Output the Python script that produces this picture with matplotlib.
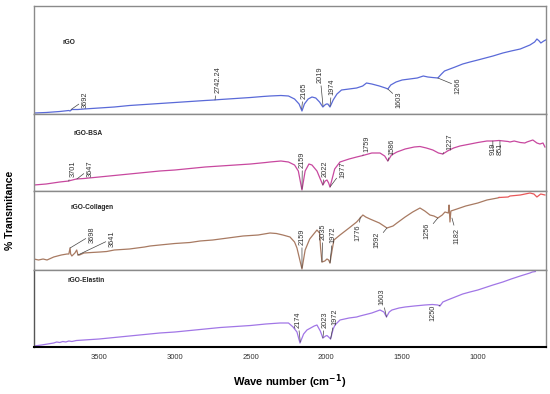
import matplotlib
matplotlib.use("Agg")
import matplotlib.pyplot as plt

plt.rcParams["font.family"] = ["Liberation Sans", "DejaVu Sans"]

# wave numbers (cm-1) and relative transmittance
RGO_W = [3930, 3850, 3760, 3700, 3692, 3680, 3640, 3600, 3500, 3400, 3300, 3200, 3100, 3000,
         2900, 2800, 2742, 2700, 2600, 2500, 2420, 2372, 2300, 2250, 2210, 2180, 2161, 2145,
         2120, 2095, 2070, 2045, 2023, 2010, 2000, 1990, 1976, 1955, 1930, 1900, 1850, 1800,
         1760, 1735, 1700, 1650, 1610, 1594, 1575, 1540, 1500, 1450, 1400, 1360, 1330, 1300,
         1264, 1240, 1220, 1150, 1100, 1052, 1000, 950, 900, 835, 780, 720, 656, 625, 610,
         595, 584, 565, 552]
RGO_T = [1, 1.5, 2.5, 3.5, 3, 4.5, 4.5, 5, 6, 7, 8.5, 9.5, 10.5, 11.5,
         12.5, 13.5, 14, 14.5, 15.5, 16.5, 17.5, 18, 18.5, 18, 15, 10, 3, 10,
         15, 17, 16, 12, 7, 9, 10, 10, 7, 14, 20, 24, 25, 26,
         28, 31, 30, 28, 26, 25, 29, 32, 34, 35, 36, 38, 37, 36.5,
         36, 40, 43, 47, 50, 52, 54, 56, 58, 61, 63, 65, 69, 72, 75,
         73, 71, 73, 74]

BSA_W = [3930, 3850, 3760, 3701, 3690, 3650, 3600, 3500, 3400, 3300, 3200, 3100, 3000, 2900,
         2800, 2700, 2600, 2500, 2400, 2372, 2300, 2250, 2210, 2185, 2161, 2140, 2115, 2095,
         2062, 2040, 2023, 2008, 1996, 1985, 1976, 1962, 1945, 1910, 1850, 1800, 1759, 1700,
         1646, 1615, 1594, 1570, 1534, 1480, 1420, 1382, 1340, 1297, 1260, 1231, 1200, 1160,
         1118, 1050, 1000, 940, 901, 860, 800, 788, 760, 720, 690, 676, 637, 610, 590, 570, 557]
BSA_T = [6, 7, 9, 10, 10.5, 12, 12.5, 14, 15.5, 17, 18.5, 20, 21, 22.5,
         24, 25, 26, 27, 28.5, 29, 30, 29, 26, 20, 1, 20, 27, 26,
         20, 12, 6, 10, 11, 8, 4, 12, 22, 29, 32, 34, 35.5, 38,
         38, 35, 30, 36, 39, 42, 44, 44.5, 43, 41, 38, 37, 40, 43,
         45, 47, 48.5, 50, 50, 50.5, 49.5, 49, 50, 48.5, 48, 49, 51, 48, 47, 48, 44]

COL_W = [3930, 3900, 3870, 3844, 3800, 3750, 3712, 3700, 3692, 3688, 3680, 3660, 3648, 3640,
         3630, 3600, 3550, 3494, 3450, 3400, 3300, 3200, 3164, 3100, 3000, 2900, 2834, 2750,
         2650, 2550, 2450, 2372, 2330, 2287, 2240, 2210, 2194, 2161, 2140, 2110, 2062, 2045,
         2038, 2029, 2010, 1996, 1985, 1976, 1962, 1950, 1910, 1850, 1800, 1759, 1740, 1712,
         1650, 1600, 1560, 1534, 1480, 1430, 1382, 1350, 1316, 1290, 1264, 1235, 1217, 1195,
         1190, 1184, 1178, 1138, 1080, 1000, 940, 870, 860]
COL_T = [11, 10, 11, 10, 13, 15, 16, 16, 22, 16, 14, 17, 20, 15,
         15, 17, 17.5, 18, 18.5, 20, 21, 23, 24, 25, 26.5, 27.5, 29, 30,
         32, 34, 35, 37, 36.5, 35, 33, 28, 22, 1, 20, 31, 40, 37,
         22, 8, 9, 11, 10, 7, 20, 30, 35, 42, 48, 55, 53, 51,
         47, 42, 44, 47, 53, 58, 62, 59, 55, 54, 52, 55, 58, 57,
         65, 48, 59, 61, 64, 67, 70, 72, 72.5]
# low wave-number tail of the collagen trace (drawn red in the original)
COL_TAIL_W = [860, 800, 788, 720, 656, 630, 610, 585, 557]
COL_TAIL_T = [72.5, 73, 74, 75, 77, 76, 73, 76, 75]

ELA_W = [3930, 3880, 3840, 3800, 3780, 3760, 3740, 3720, 3700, 3680, 3650, 3600, 3500, 3400,
         3300, 3200, 3100, 3000, 2900, 2800, 2700, 2600, 2500, 2400, 2306, 2250, 2220, 2194,
         2174, 2150, 2128, 2080, 2062, 2040, 2023, 2005, 1996, 1985, 1972, 1955, 1943, 1910,
         1850, 1800, 1778, 1700, 1646, 1620, 1603, 1585, 1567, 1520, 1480, 1420, 1350, 1300,
         1264, 1250, 1231, 1200, 1150, 1100, 1052, 1000, 940, 900, 835, 780, 720, 656, 640, 620]
ELA_T = [1, 2, 3, 4, 5, 4.5, 5.5, 5, 6, 5.5, 6.5, 7, 8, 9.5,
         11, 12.5, 14, 15, 16.5, 18, 19.5, 20.5, 21.5, 23, 24, 24, 20, 15,
         4, 13, 17, 21, 22, 16, 9, 11, 11.5, 10, 8, 18, 22, 27,
         29, 30, 31, 34, 37, 35, 30, 35, 37, 39, 40, 41, 42, 42.5,
         42, 41, 45, 47, 50, 53, 55, 57, 60, 62, 65, 68, 71, 74, 75, 75.5]

NAMES = ["rGO", "rGO-BSA", "rGO-Collagen", "rGO-Elastin"]
COLORS = ["#5a6ad8", "#c8489f", "#a87a62", "#a176e6"]
TAIL_COLOR = "#e8585a"

# peak labels: text, label x, label y, point x, point y, label above (True) / below (False)
PEAKS = [
    [("3692", 3593, 6, 3685, 4.5, True), ("2742.24", 2716, 21, 2735, 14, True),
     ("2165", 2150, 15, 2163, 5, True), ("2019", 2042, 31, 2022, 8, True),
     ("1974", 1963, 19, 1976, 8, True), ("1603", 1521, 23, 1594, 25, False),
     ("1266", 1132, 36, 1264, 36, False)],
    [("3701", 3673, 14, 3701, 10, True), ("3647", 3560, 14, 3647, 12, True),
     ("2159", 2158, 23, 2161, 2, True), ("2022", 2009, 14, 2023, 6, True),
     ("1977", 1891, 13, 1976, 4, True), ("1759", 1732, 39, 1759, 35.5, True),
     ("1586", 1567, 36, 1594, 30, True), ("1227", 1184, 41, 1231, 37, True),
     ("919", 901, 48, 901, 50, False), ("851", 854, 48, 854, 50, False)],
    [("3698", 3547, 27, 3692, 22, True), ("3641", 3415, 23, 3640, 15, True),
     ("2159", 2161, 25, 2161, 2, True), ("2035", 2023, 30, 2029, 8, True),
     ("1972", 1957, 27, 1976, 7, True), ("1776", 1792, 45, 1776, 53, False),
     ("1592", 1666, 38, 1600, 42, False), ("1256", 1336, 47, 1264, 52, False),
     ("1182", 1138, 42, 1171, 52, False)],
    [("2174", 2188, 19, 2172, 5, True), ("2023", 2009, 19, 2023, 9, True),
     ("1972", 1943, 22, 1972, 8, True), ("1603", 1633, 42, 1603, 30, True),
     ("1250", 1297, 42, 1250, 42, False)],
]

# panel edges in pixels (top, bottom) of the 550x394 figure
PANELS = [(6, 114), (114, 191), (191, 270), (270, 347)]
NAME_POS = [(3739, 72), (3666, 58), (3692, 62), (3712, 67)]


def main():
    fig = plt.figure(figsize=(5.5, 3.94), dpi=100)
    series = [(RGO_W, RGO_T), (BSA_W, BSA_T), (COL_W, COL_T), (ELA_W, ELA_T)]
    axes = []
    for i, (top, bot) in enumerate(PANELS):
        ax = fig.add_axes([34 / 550, 1 - bot / 394, 512 / 550, (bot - top) / 394])
        w, t = series[i]
        ax.plot(w, t, color=COLORS[i], linewidth=0.9)
        if i == 2:
            ax.plot(COL_TAIL_W, COL_TAIL_T, color=TAIL_COLOR, linewidth=0.9)
        ax.set_xlim(3930, 550)
        ax.set_ylim(0, bot - top)
        ax.set_yticks([])
        for s in ax.spines.values():
            s.set_color("#8a8a8a")
            s.set_linewidth(1.0)
        ax.text(NAME_POS[i][0], NAME_POS[i][1], NAMES[i], fontsize=4.8,
                fontweight="bold", color="#222222", ha="left", va="center")
        for txt, lx, ly, px, py, above in PEAKS[i]:
            ax.annotate(txt, xy=(px, py), xytext=(lx, ly), rotation=90, fontsize=5.3,
                        color="#333333", ha="center", va="bottom" if above else "top",
                        arrowprops=dict(arrowstyle="-", color="#444444", lw=0.5,
                                        shrinkA=0, shrinkB=0))
        if i < 3:
            ax.set_xticks([])
        axes.append(ax)

    ax = axes[-1]
    ax.set_xticks([3500, 3000, 2500, 2000, 1500, 1000])
    ax.tick_params(axis="x", length=0, pad=5, labelsize=5.5, labelcolor="#333333")
    ax.spines["bottom"].set_color("black")
    ax.spines["bottom"].set_linewidth(1.5)
    ax.spines["left"].set_color("#555555")

    fig.text(290 / 550, 1 - 382 / 394, r"Wave number (cm$^{\mathbf{-1}}$)", fontsize=8,
             fontweight="bold", ha="center", va="center")
    fig.text(10 / 550, 1 - 210 / 394, "% Transmitance", fontsize=7.5, fontweight="bold",
             rotation=90, ha="center", va="center")
    fig.savefig("out.png", dpi=100)


if __name__ == "__main__":
    main()
